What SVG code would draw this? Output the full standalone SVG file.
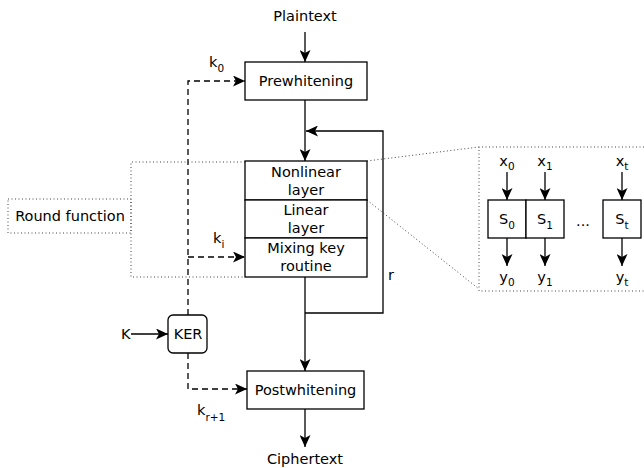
<svg xmlns="http://www.w3.org/2000/svg" width="644" height="468" viewBox="0 0 644 468">
<defs>
<style>
text{font-family:"DejaVu Sans","Liberation Sans",sans-serif;font-size:14.5px;fill:#000}
.c{text-anchor:middle}
.sub{font-size:10.5px}
.box{fill:#fff;stroke:#000;stroke-width:1.3}
.ln{fill:none;stroke:#000;stroke-width:1.3}
.da{fill:none;stroke:#000;stroke-width:1.3;stroke-dasharray:6,4}
.dot{fill:none;stroke:#444;stroke-width:1;stroke-dasharray:1,2.5}
</style>
<marker id="ah" viewBox="0 0 12 11" refX="12" refY="5.5" markerWidth="12" markerHeight="11" markerUnits="userSpaceOnUse" orient="auto">
<path d="M0,0 L12,5.5 L0,11 L3,5.5 z" fill="#000"/>
</marker>
</defs>
<g id="connectors">
<line class="ln" x1="305" y1="32" x2="305" y2="62" marker-end="url(#ah)"/>
<line class="ln" x1="305" y1="100" x2="305" y2="161" marker-end="url(#ah)"/>
<path class="ln" d="M305,313 H383 V131 H306" marker-end="url(#ah)"/>
<line class="ln" x1="305" y1="277" x2="305" y2="371" marker-end="url(#ah)"/>
<line class="ln" x1="305" y1="409" x2="305" y2="447" marker-end="url(#ah)"/>
<path class="da" d="M188,315 V81 H245" marker-end="url(#ah)"/>
<path class="da" d="M188,257 H245" marker-end="url(#ah)"/>
<path class="da" d="M188,353 V389 H247" marker-end="url(#ah)"/>
<line class="ln" x1="131" y1="334" x2="168" y2="334" marker-end="url(#ah)"/>
<path class="dot" d="M245,162 H131 V277 H245"/>
<path class="dot" d="M367,161 L479,147"/>
<path class="dot" d="M367,200 L479,289"/>
<path class="dot" d="M644,147 H479 V291 H644"/>
<line class="ln" x1="507" y1="172" x2="507" y2="200" marker-end="url(#ah)"/>
<line class="ln" x1="545" y1="172" x2="545" y2="200" marker-end="url(#ah)"/>
<line class="ln" x1="622" y1="172" x2="622" y2="200" marker-end="url(#ah)"/>
<line class="ln" x1="507" y1="238" x2="507" y2="266" marker-end="url(#ah)"/>
<line class="ln" x1="545" y1="238" x2="545" y2="266" marker-end="url(#ah)"/>
<line class="ln" x1="622" y1="238" x2="622" y2="266" marker-end="url(#ah)"/>
</g>
<g id="labels">
<text class="c" x="305" y="21">Plaintext</text>
<text class="c" x="305" y="464">Ciphertext</text>
<text x="209" y="67">k<tspan class="sub" dy="5">0</tspan></text>
<text x="213" y="243">k<tspan class="sub" dy="5">i</tspan></text>
<text x="197" y="415">k<tspan class="sub" dy="6">r+1</tspan></text>
<text x="388" y="280">r</text>
<text x="121" y="339">K</text>
<text class="c" x="583" y="226">...</text>
<text class="c" x="507" y="166">x<tspan class="sub" dy="4">0</tspan></text>
<text class="c" x="545" y="166">x<tspan class="sub" dy="4">1</tspan></text>
<text class="c" x="622" y="166">x<tspan class="sub" dy="4">t</tspan></text>
<text class="c" x="507" y="282">y<tspan class="sub" dy="4">0</tspan></text>
<text class="c" x="545" y="282">y<tspan class="sub" dy="4">1</tspan></text>
<text class="c" x="622" y="282">y<tspan class="sub" dy="4">t</tspan></text>
</g>
<g id="prewhitening">
<rect class="box" x="245" y="62" width="122" height="38"/>
<text class="c" x="306" y="86">Prewhitening</text>
</g>
<g id="nonlinear">
<rect class="box" x="245" y="161" width="122" height="39"/>
<text class="c" x="306" y="177">Nonlinear</text>
<text class="c" x="306" y="195">layer</text>
</g>
<g id="linear">
<rect class="box" x="245" y="200" width="122" height="38"/>
<text class="c" x="306" y="215">Linear</text>
<text class="c" x="306" y="233">layer</text>
</g>
<g id="mixing">
<rect class="box" x="245" y="238" width="122" height="39"/>
<text class="c" x="306" y="253">Mixing key</text>
<text class="c" x="306" y="271">routine</text>
</g>
<g id="roundfunction">
<rect class="dot" x="8" y="199" width="123" height="34"/>
<text class="c" x="70" y="221">Round function</text>
</g>
<g id="ker">
<rect class="box" x="168" y="315" width="39" height="38" rx="5"/>
<text class="c" x="188" y="339">KER</text>
</g>
<g id="postwhitening">
<rect class="box" x="247" y="371" width="117" height="38"/>
<text class="c" x="305.5" y="395">Postwhitening</text>
</g>
<g id="s0">
<rect class="box" x="488" y="200" width="38" height="38"/>
<text class="c" x="507" y="224">S<tspan class="sub" dy="5">0</tspan></text>
</g>
<g id="s1">
<rect class="box" x="526" y="200" width="38" height="38"/>
<text class="c" x="545" y="224">S<tspan class="sub" dy="5">1</tspan></text>
</g>
<g id="st">
<rect class="box" x="603" y="200" width="38" height="38"/>
<text class="c" x="622" y="224">S<tspan class="sub" dy="5">t</tspan></text>
</g>
</svg>
